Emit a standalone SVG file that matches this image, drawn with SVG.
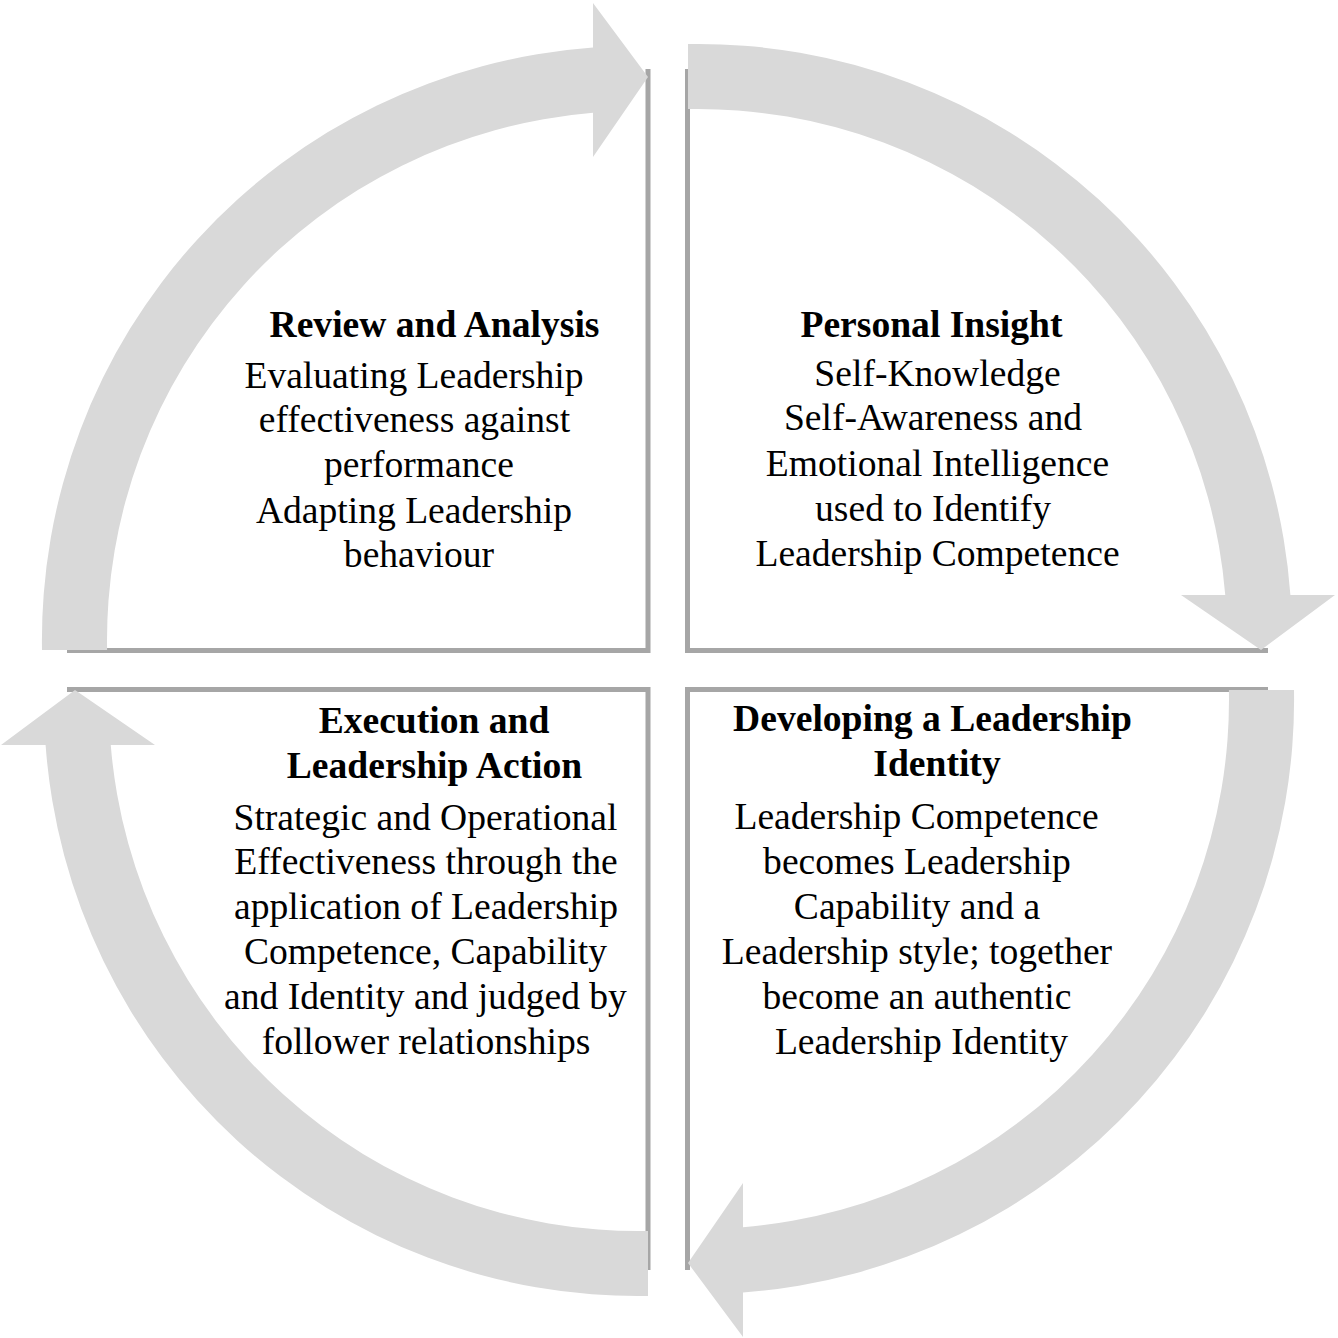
<svg xmlns="http://www.w3.org/2000/svg" width="1338" height="1338" viewBox="0 0 1338 1338">
<style>
.frame{fill:none;stroke:#A6A6A6;stroke-width:5;stroke-linejoin:miter;stroke-linecap:butt}
.arrow{fill:#D9D9D9;stroke:none}
text{font-family:"Liberation Serif","Times New Roman",serif;font-size:37.6px;fill:#000;text-anchor:middle}
.t{font-weight:bold}
</style>
<defs>
<path id="arc" d="M 42,650 A 594 594 0 0 1 593,47.6 L 593,3 L 648,77 L 593,157 L 593,112.75 A 529 529 0 0 0 107.1,650 Z"/>
</defs>
<rect width="1338" height="1338" fill="#fff"/>
<g id="review-analysis">
<polyline class="frame" points="67,650.5 648,650.5 648,69"/>
<text class="t" x="434.5" y="337">Review and Analysis</text>
<text x="414" y="388">Evaluating Leadership</text>
<text x="414.5" y="432">effectiveness against</text>
<text x="419" y="477">performance</text>
<text x="414" y="523">Adapting Leadership</text>
<text x="419" y="567">behaviour</text>
</g>
<g id="personal-insight">
<polyline class="frame" points="687.5,69 687.5,650.5 1268,650.5"/>
<text class="t" x="931.5" y="337">Personal Insight</text>
<text x="937.5" y="386">Self-Knowledge</text>
<text x="933" y="430">Self-Awareness and</text>
<text x="937.5" y="476">Emotional Intelligence</text>
<text x="933" y="521">used to Identify</text>
<text x="937.5" y="566">Leadership Competence</text>
</g>
<g id="execution-action">
<polyline class="frame" points="67,689.5 648,689.5 648,1270"/>
<text class="t" x="434" y="733">Execution and</text>
<text class="t" x="434.5" y="778">Leadership Action</text>
<text x="425.5" y="830">Strategic and Operational</text>
<text x="426" y="874">Effectiveness through the</text>
<text x="426" y="919">application of Leadership</text>
<text x="425.5" y="964">Competence, Capability</text>
<text x="425.5" y="1009">and Identity and judged by</text>
<text x="426" y="1054">follower relationships</text>
</g>
<g id="leadership-identity">
<polyline class="frame" points="687.5,1270 687.5,689.5 1268,689.5"/>
<text class="t" x="932.5" y="731">Developing a Leadership</text>
<text class="t" x="937" y="776">Identity</text>
<text x="916.5" y="829">Leadership Competence</text>
<text x="917" y="874">becomes Leadership</text>
<text x="917" y="919">Capability and a</text>
<text x="917" y="964">Leadership style; together</text>
<text x="917" y="1009">become an authentic</text>
<text x="921.5" y="1054">Leadership Identity</text>
</g>
<g id="connectors">
<use href="#arc" class="arrow"/>
<use href="#arc" class="arrow" transform="rotate(90 668 670)"/>
<use href="#arc" class="arrow" transform="rotate(180 668 670)"/>
<use href="#arc" class="arrow" transform="rotate(270 668 670)"/>
</g>
</svg>
